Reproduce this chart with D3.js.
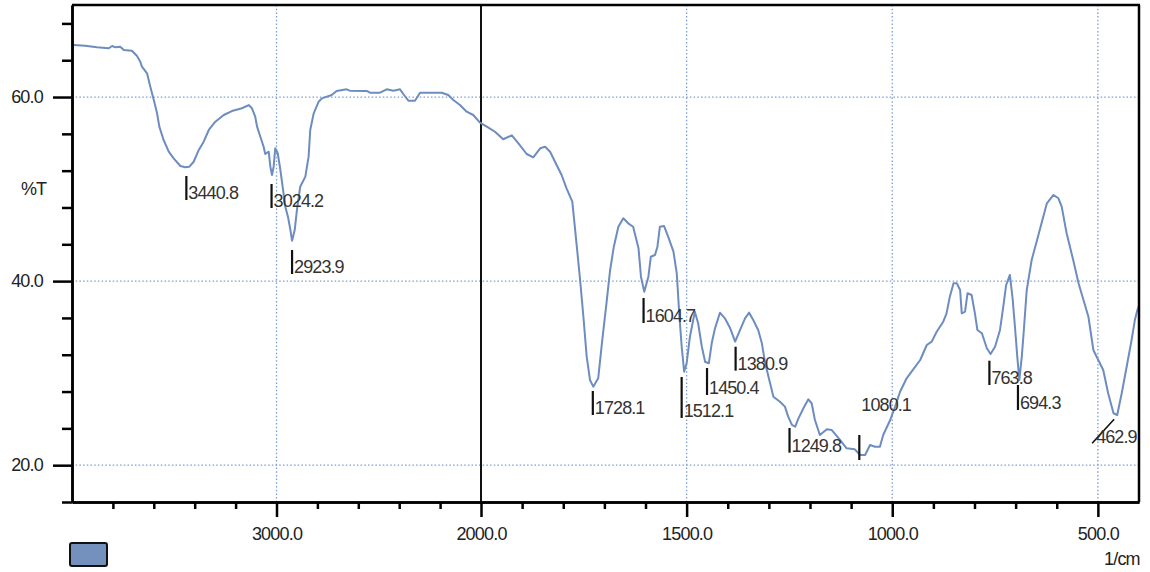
<!DOCTYPE html>
<html><head><meta charset="utf-8">
<script src="https://cdn.jsdelivr.net/npm/d3@7/dist/d3.min.js"></script>
<style>
html,body{margin:0;padding:0;background:#fff;}
svg{display:block;font-family:"Liberation Sans",Arial,sans-serif;}
</style></head><body>
<svg id="chart" width="1150" height="572"></svg>
<script>
// ---- data ----
const wavenumbers = [
 4000,3992,3935,3878,3820,3804,3788,3764,3747,3707,
 3682,3666,3658,3633,3617,3600,3584,3573,3552,3527,
 3503,3470,3446,3426,3405,3380,3356,3331,3299,3258,
 3218,3169,3136,3120,3104,3095,3079,3063,3055,3038,
 3030,3022,3014,3006,2994,2981,2970,2957,2944,2932,
 2924,2911,2900,2884,2859,2843,2835,2818,2794,2778,
 2730,2706,2657,2641,2559,2543,2494,2461,2429,2396,
 2380,2355,2323,2298,2266,2192,2160,2135,2103,2070,
 2038,2005,1986,1966,1946,1925,1909,1889,1873,1856,
 1844,1832,1820,1804,1792,1778,1767,1759,1751,1743,
 1735,1727,1715,1706,1694,1686,1677,1666,1654,1642,
 1630,1617,1611,1603,1593,1587,1577,1571,1565,1555,
 1545,1532,1524,1518,1512,1506,1500,1492,1480,1472,
 1463,1455,1446,1439,1431,1419,1407,1394,1382,1370,
 1358,1348,1338,1326,1317,1309,1297,1289,1273,1261,
 1253,1244,1236,1228,1216,1204,1196,1188,1176,1159,
 1147,1127,1111,1091,1078,1066,1054,1042,1030,1022,
 1005,993,981,965,953,932,916,904,892,876,
 868,860,851,843,835,831,823,817,807,799,
 793,782,770,761,750,738,730,723,714,707,
 701,696,691,685,680,673,661,649,637,624,
 608,596,588,576,560,547,535,523,511,499,
 487,475,462,453,442,430,418,410,404,400
];
const transmittance = [
 65.65,65.65,65.58,65.40,65.30,65.55,65.40,65.47,65.11,65.03,
 64.46,63.84,63.30,62.58,61.12,59.68,58.23,56.78,55.33,54.06,
 53.34,52.51,52.37,52.43,52.97,54.25,55.15,56.42,57.32,58.05,
 58.48,58.78,59.13,58.78,57.86,56.78,55.69,54.60,53.81,54.06,
 52.43,51.53,52.43,54.43,53.89,52.07,50.26,48.09,47.00,45.55,
 44.39,45.55,47.73,50.26,51.35,53.52,56.42,58.23,59.49,59.86,
 60.22,60.66,60.84,60.69,60.66,60.47,60.47,60.84,60.69,60.84,
 60.33,59.60,59.60,60.47,60.47,60.47,60.22,59.68,59.13,58.41,
 58.05,57.21,56.78,56.23,55.41,55.84,54.97,53.81,53.45,54.43,
 54.60,54.06,52.97,51.53,50.08,48.63,43.74,40.12,36.13,31.79,
 29.26,28.53,29.44,33.24,37.95,41.21,43.74,45.91,46.83,46.28,
 45.91,43.57,40.48,38.85,40.48,42.65,42.84,43.74,45.91,45.99,
 44.83,43.20,40.85,36.50,32.87,30.16,31.07,33.96,36.68,35.42,
 32.87,31.24,31.07,33.24,34.87,36.57,35.96,34.87,33.42,34.69,
 35.96,36.57,35.78,34.69,33.24,31.07,28.90,27.44,26.90,26.36,
 25.27,24.37,24.18,25.09,26.18,27.16,26.73,24.91,23.28,23.90,
 23.82,22.74,21.83,21.72,21.11,21.11,22.19,22.01,22.01,23.28,
 24.91,26.36,27.98,29.44,30.16,31.43,33.06,33.42,34.50,35.59,
 36.50,38.31,39.76,39.76,39.03,36.50,36.68,38.68,38.49,36.50,
 34.69,34.33,32.70,32.08,32.87,34.69,37.22,39.58,40.67,37.95,
 34.69,31.79,29.26,31.79,34.69,39.03,42.29,44.28,46.28,48.45,
 49.36,49.00,48.09,45.20,42.29,39.76,37.95,36.13,32.52,31.43,
 30.34,27.81,25.64,25.45,27.81,30.70,33.60,35.78,36.86,37.30
];
const peakWavenumbers = [3440.8,3024.2,2923.9,1728.1,1604.7,1512.1,1450.4,1380.9,1249.8,1080.1,763.8,694.3,462.9];
const peakLabels = ["3440.8","3024.2","2923.9","1728.1","1604.7","1512.1","1450.4","1380.9","1249.8","1080.1","763.8","694.3","462.9"];
const peakMarkerTopT = [51.42,50.55,43.38,28.06,38.17,29.58,30.56,32.87,24.04,23.28,31.35,28.71,24.99];
const peakMarkerBottomT = [48.81,47.94,40.77,25.45,35.45,25.13,27.63,30.27,21.36,20.56,28.71,26.00,22.38];
const peakPlacement = ["right","right","right","right","right","right","right","right","right","above","right","right","diag"];
const xDomain = [4000, 2000, 400];
const yDomain = [16, 70];
const yMajorTicks = [20, 40, 60];
const yMinorTicks = [16,24,28,32,36,44,48,52,56,64,68];
const xMajorTicks = [3000, 2000, 1500, 1000, 500];
const xMinorTicks = [3800,3600,3400,3200,2800,2600,2400,2200,1900,1800,1700,1600,1400,1300,1200,1100,900,800,700,600];
const xGridTicks = [3000, 1500, 1000, 500];
const yGridTicks = [60, 40, 20];
const xBreak = 2000;
const yLabel = "%T";
const xLabel = "1/cm";

// ---- layout ----
const svg = d3.select("#chart");
const L = 72, R = 1139, T = 5, B = 502;
const x = d3.scaleLinear().domain(xDomain).range([L, 481, R]);
const y = d3.scaleLinear().domain(yDomain).range([B, T]);
const lineColor = "#6d8cc0";
const gridColor = "#7d9dd5";
const fmt = d3.format(".1f");

// grid
svg.append("g").selectAll("line").data(yGridTicks).join("line")
  .attr("x1", L).attr("x2", R).attr("y1", d => y(d)).attr("y2", d => y(d))
  .attr("stroke", gridColor).attr("stroke-width", 1.3).attr("stroke-dasharray", "1.5,2.2");
svg.append("g").selectAll("line").data(xGridTicks).join("line")
  .attr("x1", d => x(d)).attr("x2", d => x(d)).attr("y1", T).attr("y2", B)
  .attr("stroke", gridColor).attr("stroke-width", 1.3).attr("stroke-dasharray", "1.5,2.2");

// scale-break line at 2000
svg.append("line").attr("x1", x(xBreak)).attr("x2", x(xBreak)).attr("y1", T).attr("y2", B)
  .attr("stroke", "#111").attr("stroke-width", 2);

// spectrum
const pts = wavenumbers.map((w, i) => [w, transmittance[i]]);
svg.append("path").datum(pts)
  .attr("fill", "none").attr("stroke", lineColor).attr("stroke-width", 2)
  .attr("stroke-linejoin", "round")
  .attr("d", d3.line().x(d => x(d[0])).y(d => y(d[1])));

// frame
svg.append("line").attr("x1", L).attr("x2", R + 1).attr("y1", T).attr("y2", T)
  .attr("stroke", "#000").attr("stroke-width", 2.5);
svg.append("line").attr("x1", R).attr("x2", R).attr("y1", T).attr("y2", B)
  .attr("stroke", "#000").attr("stroke-width", 2.5);

// axes
function styleAxis(g) {
  g.selectAll(".domain").attr("stroke", "#000").attr("stroke-width", 2.5);
  g.selectAll(".tick line").attr("stroke", "#000").attr("stroke-width", 2.5);
  g.selectAll(".tick text").attr("fill", "#222").style("font-size", "18px")
    .style("letter-spacing", "-0.8px").style("font-family", '"Liberation Sans", Arial, sans-serif');
}
svg.append("g").attr("transform", `translate(${L},0)`)
  .call(d3.axisLeft(y).tickValues(yMinorTicks).tickSize(10).tickSizeOuter(0).tickFormat(""))
  .call(styleAxis);
svg.append("g").attr("transform", `translate(${L},0)`)
  .call(d3.axisLeft(y).tickValues(yMajorTicks).tickSize(19).tickSizeOuter(0).tickPadding(10).tickFormat(fmt))
  .call(styleAxis);
svg.append("g").attr("transform", `translate(0,${B})`)
  .call(d3.axisBottom(x).tickValues(xMinorTicks).tickSize(7).tickSizeOuter(0).tickFormat(""))
  .call(styleAxis);
svg.append("g").attr("transform", `translate(0,${B})`)
  .call(d3.axisBottom(x).tickValues(xMajorTicks).tickSize(15).tickSizeOuter(0).tickPadding(10).tickFormat(fmt))
  .call(styleAxis);

// axis titles
svg.append("text").attr("x", 21).attr("y", 195).text(yLabel)
  .attr("fill", "#222").style("font-size", "18px").style("letter-spacing", "-1px");
svg.append("text").attr("x", 1104).attr("y", 565).text(xLabel)
  .attr("fill", "#222").style("font-size", "18px").style("letter-spacing", "-0.8px");

// peak annotations
const pg = svg.append("g");
peakWavenumbers.forEach((w, i) => {
  const mx = x(w), yt = y(peakMarkerTopT[i]), yb = y(peakMarkerBottomT[i]);
  const pl = peakPlacement[i];
  let tx, ty;
  if (pl === "diag") {
    pg.append("line").attr("x1", mx + 1).attr("y1", yt).attr("x2", mx - 21).attr("y2", yb)
      .attr("stroke", "#111").attr("stroke-width", 1.6);
    tx = mx - 17; ty = yb;
  } else {
    pg.append("line").attr("x1", mx).attr("x2", mx).attr("y1", yt).attr("y2", yb)
      .attr("stroke", "#111").attr("stroke-width", 2.2);
    if (pl === "above") { tx = mx + 2; ty = yt - 24; }
    else { tx = mx + 2; ty = yb - 1; }
  }
  pg.append("text").attr("x", tx).attr("y", ty).text(peakLabels[i])
    .attr("fill", "#333").style("font-size", "18px").style("letter-spacing", "-0.9px");
});

// legend swatch
svg.append("rect").attr("x", 70).attr("y", 543).attr("width", 37).attr("height", 23).attr("rx", 2)
  .attr("fill", "#7490bc").attr("stroke", "#111").attr("stroke-width", 2);
</script>
</body></html>
